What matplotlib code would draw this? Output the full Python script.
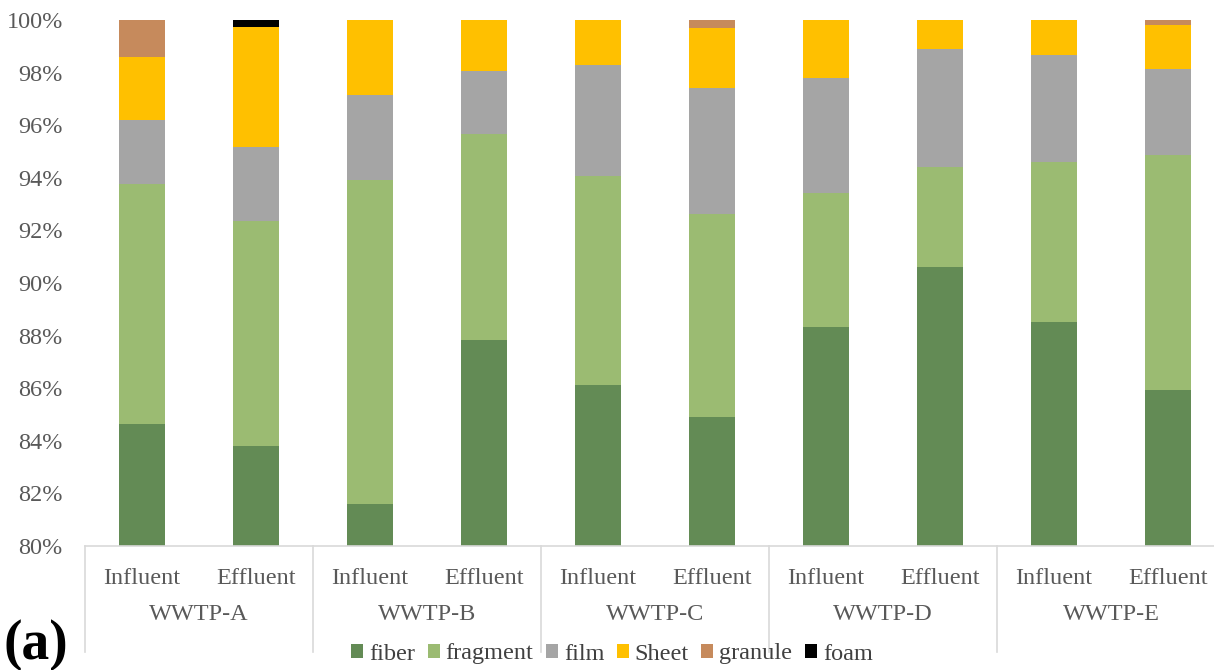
import matplotlib
matplotlib.use("Agg")
import matplotlib.pyplot as plt
import numpy as np
from matplotlib.ticker import FuncFormatter
from matplotlib.patches import Patch

plants = ["WWTP-A", "WWTP-B", "WWTP-C", "WWTP-D", "WWTP-E"]
stages = ["Influent", "Effluent"]

# percentage shares per bar (order: A-In, A-Ef, B-In, B-Ef, ... E-Ef)
fiber    = [84.65, 83.82, 81.61, 87.85, 86.12, 84.91, 88.33, 90.62, 88.50, 85.94]
fragment = [9.10, 8.53, 12.31, 7.82, 7.94, 7.72, 5.08, 3.78, 6.10, 8.94]
film     = [2.43, 2.83, 3.21, 2.39, 4.23, 4.80, 4.37, 4.48, 4.08, 3.24]
sheet    = [2.42, 4.55, 2.87, 1.94, 1.71, 2.26, 2.22, 1.12, 1.32, 1.68]
granule  = [1.40, 0.00, 0.00, 0.00, 0.00, 0.31, 0.00, 0.00, 0.00, 0.20]
foam     = [0.00, 0.27, 0.00, 0.00, 0.00, 0.00, 0.00, 0.00, 0.00, 0.00]

series_names = ["fiber", "fragment", "film", "Sheet", "granule", "foam"]
series_vals = [fiber, fragment, film, sheet, granule, foam]
colors = ["#638b55", "#9bbb72", "#a5a5a5", "#ffc000", "#c68a5c", "#000000"]

plt.rcParams['font.family'] = ['Liberation Serif', 'DejaVu Serif']
txt = "#595959"

fig = plt.figure(figsize=(12.14, 6.70), dpi=100)
ax = fig.add_axes([85/1214, 124/670, 1140/1214, 526/670])

n = len(fiber)
x = np.arange(n)
bottom = np.zeros(n)
for name, vals, c in zip(series_names, series_vals, colors):
    v = np.array(vals) / 100.0
    ax.bar(x, v, width=0.40, bottom=bottom, color=c, label=name, linewidth=0)
    bottom += v

ax.set_ylim(0.8, 1.0)
ax.set_xlim(-0.5, n - 0.5)
ax.set_yticks(np.arange(0.80, 1.001, 0.02))
ax.yaxis.set_major_formatter(FuncFormatter(lambda v, p: f"{v*100:.0f}%"))
ax.tick_params(axis='y', length=0, labelsize=17.5, labelcolor=txt, pad=16)
ax.set_xticks([])
for s in ["top", "right", "left"]:
    ax.spines[s].set_visible(False)
ax.spines["bottom"].set_color("#d9d9d9")
ax.spines["bottom"].set_linewidth(1.2)

trans = ax.get_xaxis_transform()
sep_bottom = -0.2015
for k in range(len(plants) + 1):
    xs = -0.5 + 2 * k
    ax.plot([xs, xs], [0, sep_bottom], transform=trans, color="#d9d9d9",
            lw=1.2, clip_on=False)
for i in range(n):
    ax.text(x[i], -0.062, stages[i % 2], transform=trans, ha="center",
            va="center", fontsize=17.5, color=txt)
for k, p in enumerate(plants):
    ax.text(2 * k + 0.5, -0.130, p, transform=trans, ha="center",
            va="center", fontsize=17.5, color=txt)

handles = [Patch(facecolor=c, edgecolor="none", label=nm)
           for nm, c in zip(series_names, colors)]
fig.legend(handles=handles, loc="center", bbox_to_anchor=(612/1214, 1 - 654/670),
           ncol=6, frameon=False, fontsize=17.5, handlelength=0.5, handleheight=0.5,
           handletextpad=0.25, columnspacing=0.5, labelcolor="#404040")

fig.text(3/1214, 1 - 645/670, "(a)", fontsize=40, fontweight="bold",
         ha="left", va="center", color="black")

fig.savefig("out.png", dpi=100)
